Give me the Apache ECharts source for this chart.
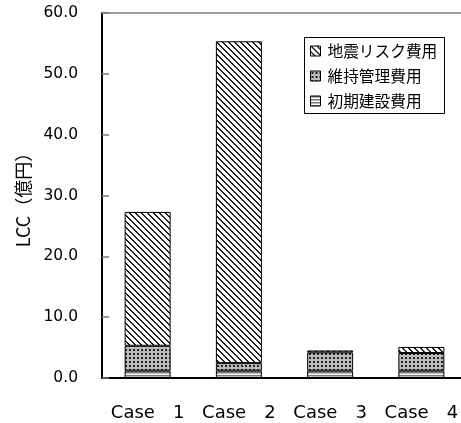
<!DOCTYPE html>
<html><head><meta charset="utf-8">
<script src="https://cdn.jsdelivr.net/npm/echarts@6/dist/echarts.min.js"></script>
<style>html,body{margin:0;padding:0;background:#fff;overflow:hidden}#c{width:467px;height:423px}</style>
</head><body><div id="c"></div>
<script>
const categories = ['Case\u30001', 'Case\u30002', 'Case\u30003', 'Case\u30004'];
const initialCost = [1.2, 1.2, 1.2, 1.2];
const maintenanceCost = [4.1, 1.25, 3.0, 2.9];
const quakeRiskCost = [22.0, 52.9, 0.33, 1.0];
const yTicks = [0, 10, 20, 30, 40, 50, 60];
const seriesNames = ['初期建設費用', '維持管理費用', '地震リスク費用'];

function makeTile(w, h, draw) {
  const c = document.createElement('canvas');
  c.width = w; c.height = h;
  const ctx = c.getContext('2d');
  ctx.fillStyle = '#fff'; ctx.fillRect(0, 0, w, h);
  draw(ctx);
  return { image: c, repeat: 'repeat' };
}
const stripePat = makeTile(4, 3, ctx => { ctx.fillStyle = '#777'; ctx.fillRect(0, 0, 4, 1.5); });
const dotPat = makeTile(4, 4, ctx => {
  ctx.fillStyle = '#bbb'; ctx.fillRect(0, 0, 4, 4);
  ctx.fillStyle = '#222'; ctx.fillRect(1, 1, 2, 2);
});
const hatchPat = makeTile(6, 6, ctx => {
  ctx.fillStyle = '#222';
  for (let i = 0; i < 6; i++) {
    for (let k = 0; k < 2; k++) ctx.fillRect((i + k) % 6, i, 1, 1);
  }
});

const chart = echarts.init(document.getElementById('c'), null, { renderer: 'canvas' });
const pats = [stripePat, dotPat, hatchPat];
const datas = [initialCost, maintenanceCost, quakeRiskCost];
chart.setOption({
  animation: false,
  grid: { left: 102, top: 13, right: 0, bottom: 45, containLabel: false },
  legend: {
    orient: 'vertical', left: 310, top: 43, padding: 0,
    itemWidth: 10, itemHeight: 10, itemGap: 9, icon: 'rect',
    data: ['地震リスク費用', '維持管理費用', '初期建設費用'],
    textStyle: { fontFamily: 'Noto Sans CJK JP', fontSize: 15.7, color: '#000', lineHeight: 16, padding: [0, 0, 0, 2] },
    itemStyle: { borderColor: '#000', borderWidth: 1 }
  },
  graphic: [{ type: 'rect', left: 302, top: 35, shape: { width: 140, height: 76 },
    style: { fill: 'none', stroke: '#000', lineWidth: 1 }, z: 10 }],
  xAxis: [{
    type: 'category', data: categories, position: 'bottom',
    axisLine: { lineStyle: { color: '#000', width: 2 } },
    axisTick: { inside: true, length: 8, lineStyle: { color: '#000', width: 1 } },
    axisLabel: { interval: 0, fontFamily: 'DejaVu Sans', fontSize: 18, color: '#000', margin: 26 }
  }, {
    type: 'category', data: categories, position: 'top',
    axisLine: { lineStyle: { color: '#808080', width: 1.5 } },
    axisTick: { show: false }, axisLabel: { show: false }
  }],
  yAxis: {
    type: 'value', min: yTicks[0], max: yTicks[yTicks.length - 1], interval: 10,
    name: 'LCC（億円）', nameLocation: 'middle', nameGap: 68,
    nameTextStyle: { fontFamily: 'Noto Sans CJK JP', fontSize: 18, color: '#000' },
    axisLine: { show: true, lineStyle: { color: '#000', width: 2 } },
    axisTick: { show: true, inside: true, length: 7, lineStyle: { color: '#777', width: 1.5 } },
    axisLabel: { fontFamily: 'DejaVu Sans', fontSize: 15.5, color: '#000', margin: 24,
      padding: [4, 0, 0, 0], formatter: v => v.toFixed(1) },
    splitLine: { show: false }
  },
  series: seriesNames.map((n, i) => ({
    name: n, type: 'bar', stack: 'lcc', barWidth: 46, data: datas[i],
    itemStyle: { color: pats[i], borderColor: '#000', borderWidth: 1 }
  }))
});
</script></body></html>
